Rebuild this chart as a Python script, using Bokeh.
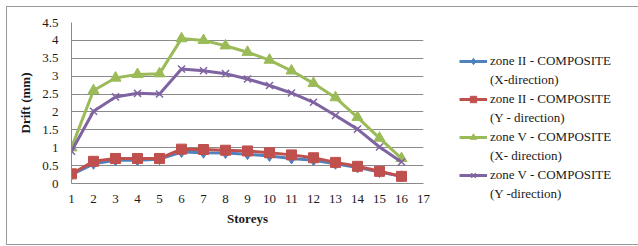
from bokeh.plotting import figure
from bokeh.models import ColumnDataSource, Legend, LegendItem, FixedTicker, Range1d
from bokeh.embed import file_html
from bokeh.resources import INLINE

storeys = list(range(1, 17))
zone2_x = [0.25, 0.55, 0.65, 0.65, 0.68, 0.88, 0.86, 0.85, 0.82, 0.77, 0.70, 0.65, 0.55, 0.45, 0.32, 0.20]
zone2_y = [0.27, 0.62, 0.70, 0.70, 0.70, 0.96, 0.95, 0.93, 0.91, 0.86, 0.80, 0.72, 0.59, 0.48, 0.34, 0.20]
zone5_x = [1.00, 2.60, 2.95, 3.05, 3.07, 4.05, 4.00, 3.85, 3.67, 3.45, 3.15, 2.80, 2.40, 1.85, 1.27, 0.70]
zone5_y = [0.90, 2.02, 2.42, 2.52, 2.50, 3.20, 3.15, 3.07, 2.92, 2.74, 2.53, 2.27, 1.90, 1.52, 1.02, 0.60]
labels_line1 = ["zone II - COMPOSITE", "zone II - COMPOSITE", "zone V - COMPOSITE", "zone V - COMPOSITE"]
labels_line2 = ["(X-direction)", "(Y - direction)", "(X- direction)", "(Y -direction)"]
y_ticks = [0, 0.5, 1, 1.5, 2, 2.5, 3, 3.5, 4, 4.5]
x_ticks = list(range(1, 18))

FONT = "Liberation Serif"
TXT = "#1a1a1a"

p = figure(frame_width=352, frame_height=161, output_backend="svg", toolbar_location=None,
           x_range=Range1d(1, 17), y_range=Range1d(0, 4.5),
           min_border_left=64, min_border_right=207, min_border_top=15, min_border_bottom=61)
p.styles = {"border": "1px solid #9a9a9a", "margin": "6px 0 0 6px"}
p.outline_line_color = None
p.xgrid.grid_line_color = None
p.ygrid.grid_line_color = "#8a8a8a"
p.ygrid.grid_line_width = 1

p.xaxis.ticker = FixedTicker(ticks=x_ticks)
p.yaxis.ticker = FixedTicker(ticks=y_ticks)
p.yaxis.major_label_overrides = {4.5: "4.5", 4: "4", 3.5: "3.5", 3: "3", 2.5: "2.5", 2: "2",
                                  1.5: "1.5", 1: "1", 0.5: "0.5", 0: "0"}
for ax in (p.xaxis[0], p.yaxis[0]):
    ax.axis_line_color = "#8a8a8a"
    ax.major_tick_line_color = None
    ax.minor_tick_line_color = None
    ax.major_tick_out = 0
    ax.major_tick_in = 0
    ax.minor_tick_out = 0
    ax.minor_tick_in = 0
    ax.major_label_text_font = FONT
    ax.major_label_text_font_size = "13px"
    ax.major_label_text_color = TXT
    ax.axis_label_text_font = FONT
    ax.axis_label_text_font_size = "13px"
    ax.axis_label_text_font_style = "bold"
    ax.axis_label_text_color = TXT
p.xaxis.axis_label = "Storeys"
p.yaxis.axis_label = "Drift (mm)"
p.xaxis.major_label_standoff = 11
p.yaxis.major_label_standoff = 13
p.xaxis.axis_label_standoff = 5
p.yaxis.axis_label_standoff = 6

src = ColumnDataSource(dict(x=storeys, a=zone2_x, b=zone2_y, c=zone5_x, d=zone5_y))
series = [
    ("a", "#4F81BD", "diamond", 11),
    ("b", "#C0504D", "square", 10),
    ("c", "#9BBB59", "triangle", 11),
    ("d", "#8064A2", "x", 10),
]
# invisible renderer used for the second line of each legend entry
blank = p.line(x=[], y=[], line_alpha=0)

items = []
for (col, color, marker, size), l1, l2 in zip(series, labels_line1, labels_line2):
    r1 = p.line("x", col, source=src, line_color=color, line_width=3)
    r2 = p.scatter("x", col, source=src, marker=marker, size=size,
                   fill_color=color, line_color=color, line_width=1.5 if marker == "x" else 1)
    items.append(LegendItem(label=l1, renderers=[r1, r2]))
    items.append(LegendItem(label=l2, renderers=[blank]))

legend = Legend(items=items, location=(36, -19), border_line_color=None,
                background_fill_alpha=0, label_text_font=FONT, label_text_font_size="13px",
                label_text_color=TXT, glyph_width=28, glyph_height=16, label_height=16,
                label_standoff=3, spacing=3, padding=0, margin=0)
p.add_layout(legend, "right")

open("out.html", "w").write(file_html(p, INLINE))
